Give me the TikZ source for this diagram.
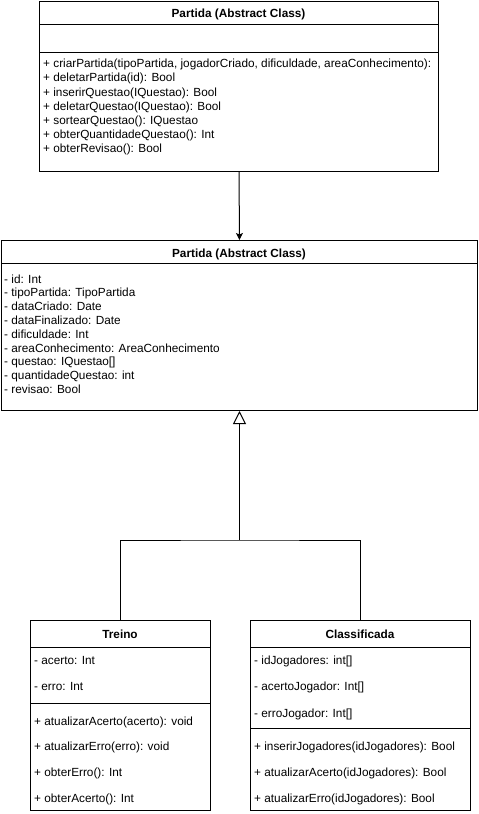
\documentclass[tikz,border=0pt]{standalone}
\usepackage{fontspec}
\setmainfont{Liberation Sans}
\usetikzlibrary{arrows.meta,positioning}

\begin{document}
\begin{tikzpicture}[
   x=1pt,y=-1pt,
   every node/.style={font=\fontsize{11.8pt}{14pt}\selectfont},
   classbox/.style={draw=black,line width=1pt,anchor=north west,inner sep=0pt},
   divider/.style={draw=black,line width=1pt},
   head/.style={anchor=base,inner sep=0pt,font=\fontsize{11.8pt}{14pt}\selectfont\bfseries},
   member/.style={anchor=base west,inner sep=0pt},
   assoc/.style={line width=1pt,-{Stealth[length=7pt,width=7pt,inset=1.5pt]}},
   generalize/.style={line width=1pt,-{Triangle[open,length=13pt,width=13pt,line width=1pt]}}
 ]
  \useasboundingbox (0,0) rectangle (479,814);

  % Upper abstract class: operations only.
  \node[classbox,minimum width=399pt,minimum height=170pt] (partidaOps) at (39,1) {};
  \node[head] (opsHead) at (238.5,17.5) {Partida (Abstract Class)};
  \draw[divider] (39,24) -- (438,24);
  \draw[divider] (39,52) -- (438,52);
  \node[member] (op1) at (43,67.7) {+ criarPartida(tipoPartida, jogadorCriado, dificuldade, areaConhecimento):};
  \node[member] (op2) at (43,81.9) {+ deletarPartida(id): Bool};
  \node[member] (op3) at (43,96) {+ inserirQuestao(IQuestao): Bool};
  \node[member] (op4) at (43,110.2) {+ deletarQuestao(IQuestao): Bool};
  \node[member] (op5) at (43,124.3) {+ sortearQuestao(): IQuestao};
  \node[member] (op6) at (43,138.5) {+ obterQuantidadeQuestao(): Int};
  \node[member] (op7) at (43,152.7) {+ obterRevisao(): Bool};

  % Lower abstract class: attributes only.
  \node[classbox,minimum width=476pt,minimum height=170pt] (partida) at (1,240) {};
  \node[head] (partidaHead) at (239,257) {Partida (Abstract Class)};
  \draw[divider] (1,263) -- (477,263);
  \node[member] (at1) at (4,283) {- id: Int};
  \node[member] (at2) at (4,296.8) {- tipoPartida: TipoPartida};
  \node[member] (at3) at (4,310.6) {- dataCriado: Date};
  \node[member] (at4) at (4,324.4) {- dataFinalizado: Date};
  \node[member] (at5) at (4,338.2) {- dificuldade: Int};
  \node[member] (at6) at (4,352) {- areaConhecimento: AreaConhecimento};
  \node[member] (at7) at (4,365.8) {- questao: IQuestao[]};
  \node[member] (at8) at (4,379.6) {- quantidadeQuestao: int};
  \node[member] (at9) at (4,393.4) {- revisao: Bool};

  \draw[assoc] (partidaOps.south) -- (partida.north);

  % Subclass Treino.
  \node[classbox,minimum width=180pt,minimum height=190pt] (treino) at (30,620) {};
  \node[head] (treinoHead) at (120,638) {Treino};
  \draw[divider] (30,647) -- (210,647);
  \draw[divider] (30,703) -- (210,703);
  \node[member] (tr1) at (34,664) {- acerto: Int};
  \node[member] (tr2) at (34,690) {- erro: Int};
  \node[member] (tr3) at (34,725) {+ atualizarAcerto(acerto): void};
  \node[member] (tr4) at (34,750) {+ atualizarErro(erro): void};
  \node[member] (tr5) at (34,776) {+ obterErro(): Int};
  \node[member] (tr6) at (34,802) {+ obterAcerto(): Int};

  % Subclass Classificada.
  \node[classbox,minimum width=220pt,minimum height=190pt] (classificada) at (250,620) {};
  \node[head] (classHead) at (360,638) {Classificada};
  \draw[divider] (250,647) -- (470,647);
  \draw[divider] (250,728) -- (470,728);
  \node[member] (cl1) at (254,664) {- idJogadores: int[]};
  \node[member] (cl2) at (254,690) {- acertoJogador: Int[]};
  \node[member] (cl3) at (254,717) {- erroJogador: Int[]};
  \node[member] (cl4) at (254,750) {+ inserirJogadores(idJogadores): Bool};
  \node[member] (cl5) at (254,776) {+ atualizarAcerto(idJogadores): Bool};
  \node[member] (cl6) at (254,802) {+ atualizarErro(idJogadores): Bool};

  % Shared generalization to the abstract class.
  \coordinate (joint) at (partida.south |- 0,540);
  \draw[line width=1pt] (treino.north) |- (joint) -| (classificada.north);
  \draw[generalize] (joint) -- (partida.south);
\end{tikzpicture}
\end{document}
